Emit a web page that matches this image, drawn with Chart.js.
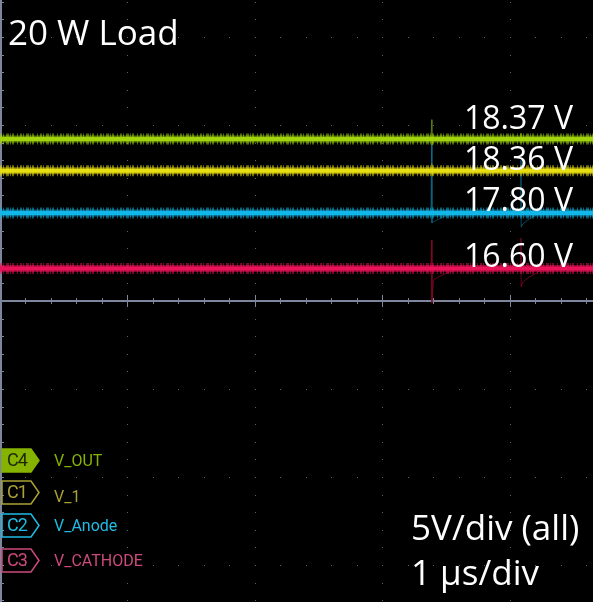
<!DOCTYPE html>
<html>
<head>
<meta charset="utf-8">
<title>20 W Load</title>
<script src="https://cdn.jsdelivr.net/npm/chart.js@4.4.1/dist/chart.umd.min.js"></script>
<style>
  html, body { margin: 0; padding: 0; background: #000; }
  #scope { position: relative; width: 593px; height: 602px; overflow: hidden; background: #000; }
  #scope canvas { position: absolute; left: 0; top: 0; }
  .note { position: absolute; color: #fff; font-family: 'Open Sans', sans-serif; line-height: 1; white-space: nowrap; }
  .title { left: 8px; top: 14px; font-size: 35px; }
  .readout { left: 464px; font-size: 32px; }
  .scale { left: 411px; font-size: 35px; }
  .tag { position: absolute; left: 1px; width: 40px; height: 26px; }
  .tag svg { position: absolute; left: 0; top: 0; }
  .tag span { position: absolute; left: 6px; top: 3px; font: 18px Roboto, sans-serif; line-height: 1; letter-spacing: -1px; }
  .chan { position: absolute; left: 54px; font: 16px Roboto, sans-serif; line-height: 1; white-space: nowrap; }
</style>
</head>
<body>
<div id="scope">
  <canvas id="scopeChart" width="593" height="602"></canvas>
  <div id="notes"></div>
  <div id="legend"></div>
</div>
<script>
const channelNames = ['V_OUT', 'V_1', 'V_Anode', 'V_CATHODE'];
const probeTags = ['C4', 'C1', 'C2', 'C3'];
const readouts = ['18.37 V', '18.36 V', '17.80 V', '16.60 V'];
const traceColors = ['#a2d40e', '#e8df12', '#12b6e8', '#ea1258'];
const tagColors = ['#86b300', '#aaa236', '#20bce4', '#cc4a7c'];
const glitchColors = ['rgba(100,140,20,0.6)', 'rgba(150,140,10,0.5)', 'rgba(14,120,155,0.6)', 'rgba(140,10,40,0.7)'];

// time in µs from the left edge (1 µs/div)
const sweepUs = [0, 4.651];
// trace levels in divisions above the centre line (5 V/div, each channel has its own offset)
const levelDiv = [1.84, 1.48, 1.00, 0.37];

// switching spikes
const vOutSpikeUs  = [3.380, 3.386, 3.388, 3.394, 4.080, 4.086, 4.088, 4.094];
const vOutSpikeDiv = [1.84, 2.06, 1.77, 1.84, 1.84, 1.91, 1.80, 1.84];
const v1SpikeUs  = [3.380, 3.386, 3.388, 3.394];
const v1SpikeDiv = [1.48, 1.56, 1.42, 1.48];
const anodeSpikeUs  = [3.380, 3.386, 3.388, 3.40, 3.44, 3.49, 3.55, 3.60, 4.080, 4.086, 4.088, 4.10, 4.14, 4.19, 4.24];
const anodeSpikeDiv = [1.00, 1.81, 0.886, 0.90, 0.93, 0.966, 0.99, 1.00, 1.00, 1.60, 0.84, 0.875, 0.92, 0.966, 1.00];
const cathodeSpikeUs  = [3.380, 3.386, 3.388, 3.40, 3.45, 3.51, 3.57, 3.62, 4.080, 4.086, 4.088, 4.10, 4.15, 4.21, 4.26];
const cathodeSpikeDiv = [0.37, 0.69, -0.02, 0.24, 0.28, 0.32, 0.35, 0.37, 0.37, 0.716, 0.16, 0.216, 0.27, 0.318, 0.37];

const spikeUs = [vOutSpikeUs, v1SpikeUs, anodeSpikeUs, cathodeSpikeUs];
const spikeDiv = [vOutSpikeDiv, v1SpikeDiv, anodeSpikeDiv, cathodeSpikeDiv];

function pairs(xs, ys) {
    return xs.map((t, i) => ({ x: t, y: ys[i] }));
}

function hexAlpha(hex, a) {
    const n = parseInt(hex.slice(1), 16);
    return `rgba(${n >> 16}, ${(n >> 8) & 255}, ${n & 255}, ${a})`;
}

const datasets = [];
channelNames.forEach((name, i) => {
    const flat = pairs(sweepUs, [levelDiv[i], levelDiv[i]]);
    // noise fringe around the trace
    datasets.push({
        label: name + ' fringe',
        data: flat,
        borderColor: hexAlpha(traceColors[i], 0.5),
        borderWidth: 11,
        borderDash: [2, 1, 1, 2, 3, 1, 1, 1, 2, 3, 1, 2],
        order: 3
    });
    datasets.push({
        label: name + ' band',
        data: flat,
        borderColor: hexAlpha(traceColors[i], 0.55),
        borderWidth: 7,
        order: 2
    });
    datasets.push({
        label: name,
        data: flat,
        borderColor: traceColors[i],
        borderWidth: 4,
        order: 1
    });
    datasets.push({
        label: name + ' spike',
        data: pairs(spikeUs[i], spikeDiv[i]),
        borderColor: glitchColors[i],
        borderWidth: 1,
        order: 4
    });
});

const graticule = {
    id: 'graticule',
    beforeDatasetsDraw(chart) {
        const { ctx, chartArea, scales: { x, y } } = chart;
        ctx.save();
        ctx.fillStyle = '#5e6272';
        // dotted major columns
        for (let t = 1; t <= 4; t++) {
            const px = Math.round(x.getPixelForValue(t));
            for (let k = -17; k <= 17; k++) {
                const py = Math.round(y.getPixelForValue(k * 0.2));
                ctx.fillRect(px, py, 1, 1);
            }
        }
        // dotted major rows
        for (let m = -3; m <= 3; m++) {
            if (m === 0) continue;
            const py = Math.round(y.getPixelForValue(m));
            for (let k = 1; k <= 23; k++) {
                const px = Math.round(x.getPixelForValue(k * 0.2));
                ctx.fillRect(px, py, 1, 1);
            }
        }
        // centre line with ticks
        ctx.fillStyle = '#7d869c';
        const py0 = Math.round(y.getPixelForValue(0));
        ctx.fillRect(chartArea.left, py0 - 1, chartArea.right - chartArea.left, 2);
        for (let k = 0; k <= 23; k++) {
            const px = Math.round(x.getPixelForValue(k * 0.2));
            const len = k % 5 === 0 ? 6 : 3;
            ctx.fillRect(px, py0 - len, 1, len * 2);
        }
        // left edge with ticks
        ctx.fillRect(chartArea.left, chartArea.top, 2, chartArea.bottom - chartArea.top);
        for (let k = -17; k <= 17; k++) {
            const py = Math.round(y.getPixelForValue(k * 0.2));
            ctx.fillRect(chartArea.left, py, 4, 1);
        }
        ctx.restore();
    }
};

new Chart(document.getElementById('scopeChart'), {
    type: 'scatter',
    data: { datasets: datasets },
    options: {
        responsive: false,
        devicePixelRatio: 1,
        animation: false,
        showLine: true,
        layout: { padding: 0 },
        elements: {
            point: { radius: 0, hoverRadius: 0 },
            line: { tension: 0, borderCapStyle: 'butt' }
        },
        plugins: {
            legend: { display: false },
            tooltip: { enabled: false }
        },
        scales: {
            x: { type: 'linear', min: 0, max: 4.651, display: false },
            y: { type: 'linear', min: -3.42, max: 3.42, display: false }
        }
    },
    plugins: [graticule]
});

// text on the screen
const notes = document.getElementById('notes');
function addNote(text, cls, top) {
    const d = document.createElement('div');
    d.className = 'note ' + cls;
    d.textContent = text;
    if (top !== undefined) d.style.top = top + 'px';
    notes.appendChild(d);
}
addNote('20 W Load', 'title');
const readoutTops = [101, 142, 183, 239];
readouts.forEach((r, i) => addNote(r, 'readout', readoutTops[i]));
addNote('5V/div (all)', 'scale', 509);
addNote('1 µs/div', 'scale', 554);

// channel legend
const legend = document.getElementById('legend');
const tagTops = [448, 480, 513, 548];
const chanTops = [453, 489, 518, 553];
channelNames.forEach((name, i) => {
    const tag = document.createElement('div');
    tag.className = 'tag';
    tag.style.top = tagTops[i] + 'px';
    const filled = i === 0;
    tag.innerHTML = `<svg width="40" height="26"><polygon points="1,1 30,1 38,12.5 30,24 1,24" fill="${filled ? tagColors[i] : 'none'}" stroke="${tagColors[i]}" stroke-width="1.5"/></svg>`;
    const s = document.createElement('span');
    s.textContent = probeTags[i];
    s.style.color = filled ? '#1c2600' : tagColors[i];
    tag.appendChild(s);
    legend.appendChild(tag);

    const c = document.createElement('div');
    c.className = 'chan';
    c.style.top = chanTops[i] + 'px';
    c.style.color = tagColors[i];
    c.textContent = name;
    legend.appendChild(c);
});
</script>
</body>
</html>
